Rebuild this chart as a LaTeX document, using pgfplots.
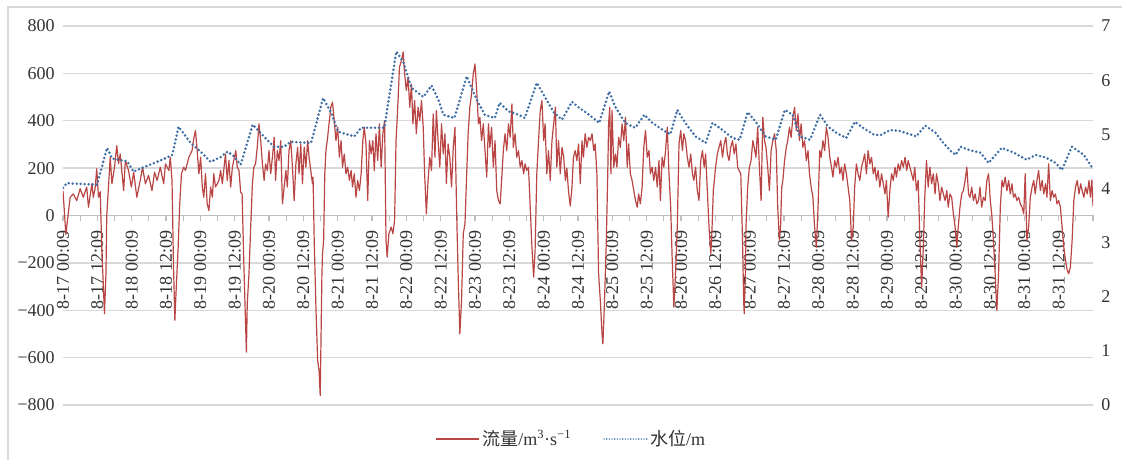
\documentclass[border=0pt]{standalone}
\usepackage{fontspec}
\setmainfont{Liberation Serif}
\newfontfamily\cjk{Noto Sans CJK SC}
\usepackage{pgfplots}
\pgfplotsset{compat=1.18}

\definecolor{flowred}{RGB}{185,70,68}
\definecolor{levelblue}{RGB}{62,110,165}
\definecolor{gridgray}{RGB}{217,217,217}
\definecolor{axisgray}{RGB}{191,191,191}
\definecolor{labelgray}{RGB}{50,50,50}

% hours from 8-17 00:09, flow in m3/s
\pgfplotstableread[row sep=\\]{
h q\\
0 105\\ 1 -80\\ 2.5 77\\ 3.6 91\\ 4.8 63\\ 6.0 113\\ 7.1 77\\ 8.3 120\\ 8.9 35\\ 10.1 134\\ 10.6 77\\ 11.2 113\\ 11.8 197\\ 12.4 77\\ 13.0 100\\ 13.6 -150\\ 14.5 -415\\ 15.0 -250\\ 15.3 0\\ 15.9 120\\
16.5 246\\ 17.1 134\\ 18.0 204\\ 18.8 295\\ 19.4 218\\ 20.0 260\\ 21.2 105\\ 21.8 232\\ 22.9 190\\ 23.9 120\\ 24.7 183\\ 25.8 77\\ 27.0 148\\ 27.8 204\\ 28.8 134\\ 29.9 169\\ 31.1 105\\ 32.0 183\\ 32.9 148\\ 34.0 204\\
35.2 134\\ 35.8 218\\ 37.0 190\\ 37.5 246\\ 38.1 150\\ 38.6 -200\\ 39.1 -443\\ 39.6 -300\\ 40.2 -150\\ 40.8 50\\ 41.4 176\\ 42.2 204\\ 42.8 190\\ 44.0 246\\ 45.1 274\\ 45.7 324\\ 46.3 359\\ 46.9 274\\ 47.5 176\\ 48.1 246\\
48.7 120\\ 49.2 77\\ 49.8 176\\ 50.4 49\\ 51.0 21\\ 51.6 120\\ 52.2 77\\ 52.7 176\\ 53.3 120\\ 54.5 148\\ 55.1 190\\ 55.7 134\\ 56.3 204\\ 56.8 260\\ 57.4 148\\ 58.0 232\\ 58.6 120\\ 59.2 204\\ 60.4 274\\ 60.9 204\\
61.5 190\\ 62.1 98\\ 62.6 91\\ 63.2 -200\\ 64.1 -577\\ 64.4 -373\\ 65.0 -246\\ 65.6 -49\\ 66.2 134\\ 66.7 204\\ 67.3 218\\ 67.9 288\\ 68.5 387\\ 69.1 316\\ 69.7 218\\ 70.3 148\\ 70.8 218\\ 71.4 190\\ 72.0 274\\ 72.6 176\\
73.2 246\\ 73.8 330\\ 74.3 148\\ 74.9 274\\ 75.5 232\\ 76.1 316\\ 76.7 49\\ 77.3 120\\ 77.9 190\\ 78.4 120\\ 79.0 274\\ 79.6 316\\ 80.2 204\\ 80.8 63\\ 81.4 218\\ 82.0 288\\ 82.5 176\\ 83.1 302\\ 83.7 134\\ 84.3 288\\
84.9 204\\ 85.5 316\\ 86.0 246\\ 86.6 190\\ 87.2 134\\ 87.4 162\\ 87.8 -105\\ 88.4 -387\\ 89.0 -612\\ 89.5 -654\\ 89.9 -760\\ 90.5 -246\\ 90.7 -162\\ 91.1 -105\\ 91.5 176\\ 91.9 274\\ 92.5 330\\ 93.1 401\\ 93.6 457\\ 94.2 478\\
94.8 401\\ 95.4 316\\ 96.0 373\\ 96.6 246\\ 97.2 316\\ 97.7 204\\ 98.3 260\\ 98.9 176\\ 99.5 204\\ 100.1 148\\ 100.7 190\\ 101.2 120\\ 101.8 176\\ 102.4 77\\ 103.0 148\\ 103.6 105\\ 104.2 176\\ 104.8 316\\ 105.3 373\\ 105.9 302\\
106.5 63\\ 107.1 316\\ 107.7 260\\ 108.3 316\\ 108.8 190\\ 109.4 345\\ 110.0 232\\ 110.6 387\\ 111.2 204\\ 111.8 345\\ 112.4 401\\ 112.9 -105\\ 113.3 -176\\ 113.9 -77\\ 114.7 -49\\ 115.3 -77\\ 115.9 -21\\ 116.4 316\\ 117.0 457\\ 117.6 626\\
118.2 650\\ 118.9 690\\ 119.4 598\\ 120.0 528\\ 120.6 584\\ 121.2 457\\ 121.8 555\\ 122.3 387\\ 122.9 485\\ 123.5 345\\ 124.1 457\\ 124.7 401\\ 125.3 485\\ 125.9 373\\ 126.4 176\\ 127.0 7\\ 127.6 148\\ 128.2 246\\ 128.8 190\\ 129.4 429\\
130.0 246\\ 130.5 443\\ 131.1 316\\ 131.7 204\\ 132.3 387\\ 132.9 260\\ 133.5 345\\ 134.0 134\\ 134.6 302\\ 135.2 246\\ 135.8 120\\ 136.4 288\\ 137.0 373\\ 137.6 7\\ 138.1 -246\\ 138.7 -500\\ 139.3 -359\\ 139.9 -77\\ 140.5 -35\\ 141.1 176\\
141.6 345\\ 142.2 457\\ 142.8 514\\ 143.4 598\\ 144.0 640\\ 144.6 527\\ 145.2 387\\ 145.7 415\\ 146.3 316\\ 146.9 387\\ 147.5 274\\ 148.1 162\\ 148.7 387\\ 149.2 288\\ 149.8 373\\ 150.4 204\\ 151.0 316\\ 151.6 105\\ 152.2 63\\ 152.8 49\\
153.3 148\\ 153.9 274\\ 154.5 345\\ 155.1 274\\ 155.7 387\\ 156.3 330\\ 156.9 471\\ 157.4 288\\ 158.0 345\\ 158.6 246\\ 159.2 274\\ 159.8 204\\ 160.4 232\\ 161.0 176\\ 161.5 218\\ 162.1 190\\ 162.7 204\\ 163.3 35\\ 163.9 -134\\ 164.5 -260\\
165.0 -148\\ 165.6 176\\ 166.2 316\\ 166.8 443\\ 167.4 485\\ 168.0 316\\ 168.5 387\\ 169.1 176\\ 169.7 274\\ 170.3 148\\ 170.9 316\\ 171.5 387\\ 172.1 457\\ 172.6 204\\ 173.2 316\\ 173.8 176\\ 174.4 288\\ 175.0 246\\ 175.6 148\\ 176.1 200\\
176.7 100\\ 177.3 40\\ 177.9 120\\ 178.4 246\\ 179.0 274\\ 179.6 232\\ 180.2 302\\ 180.8 134\\ 181.4 316\\ 181.9 246\\ 182.5 345\\ 183.1 288\\ 183.7 330\\ 184.3 316\\ 184.9 345\\ 185.5 274\\ 186.0 302\\ 186.6 176\\ 187.2 -246\\ 187.8 -359\\
188.4 -500\\ 188.7 -542\\ 189.2 -387\\ 189.9 -105\\ 190.4 176\\ 190.7 387\\ 191.1 457\\ 191.5 176\\ 191.9 443\\ 192.5 204\\ 193.1 260\\ 193.6 204\\ 194.2 330\\ 194.8 288\\ 195.4 387\\ 196.0 316\\ 196.6 415\\ 197.2 204\\ 197.7 302\\ 198.3 176\\
198.9 148\\ 199.5 105\\ 200.1 63\\ 200.7 35\\ 201.2 91\\ 201.8 49\\ 202.4 120\\ 203.0 288\\ 203.6 359\\ 204.2 246\\ 204.8 274\\ 205.3 176\\ 205.9 204\\ 206.5 148\\ 207.1 204\\ 207.7 120\\ 208.3 232\\ 208.8 63\\ 209.4 246\\ 210.0 204\\
210.6 274\\ 211.2 373\\ 211.8 176\\ 212.4 35\\ 212.9 -176\\ 213.5 -387\\ 214.1 -246\\ 214.7 -49\\ 215.3 302\\ 215.9 359\\ 216.5 274\\ 217.0 345\\ 217.6 316\\ 218.2 246\\ 218.8 204\\ 219.4 260\\ 220.0 176\\ 220.5 148\\ 221.1 204\\ 221.7 105\\
222.3 63\\ 222.9 232\\ 223.5 274\\ 224.1 204\\ 224.6 260\\ 225.2 105\\ 225.8 -49\\ 226.4 -162\\ 226.7 -105\\ 227.3 105\\ 228.1 204\\ 228.7 260\\ 229.3 288\\ 229.9 316\\ 230.5 246\\ 231.1 302\\ 231.7 330\\ 232.2 260\\ 232.8 232\\ 233.4 288\\
234.0 316\\ 234.6 260\\ 235.2 302\\ 235.8 204\\ 236.3 190\\ 236.9 176\\ 237.5 -105\\ 237.9 -359\\ 238.1 -415\\ 238.5 -246\\ 238.7 -49\\ 239.3 120\\ 239.9 204\\ 240.5 232\\ 241.1 316\\ 241.6 288\\ 242.2 246\\ 242.8 373\\ 243.4 204\\ 244.0 63\\
244.6 415\\ 245.2 316\\ 245.7 288\\ 246.3 204\\ 246.9 105\\ 247.5 274\\ 248.1 316\\ 248.7 345\\ 249.3 274\\ 249.8 35\\ 250.4 -105\\ 250.8 -49\\ 251.2 120\\ 251.6 148\\ 252.2 232\\ 252.8 288\\ 253.3 316\\ 253.9 373\\ 254.5 330\\ 255.1 415\\
255.7 457\\ 256.3 359\\ 256.9 429\\ 257.4 316\\ 258.0 387\\ 258.6 288\\ 259.2 316\\ 259.8 232\\ 260.4 274\\ 260.9 176\\ 261.5 120\\ 262.1 77\\ 262.7 -49\\ 263.3 -134\\ 263.9 35\\ 264.5 274\\ 265.0 246\\ 265.6 316\\ 266.2 274\\ 266.8 373\\
267.4 330\\ 268.0 246\\ 268.6 204\\ 269.1 162\\ 269.7 232\\ 270.3 204\\ 270.9 246\\ 271.5 176\\ 272.1 204\\ 272.6 148\\ 273.2 218\\ 273.8 176\\ 274.4 120\\ 275.0 63\\ 275.6 -105\\ 276.2 -49\\ 276.7 120\\ 277.3 218\\ 277.9 176\\ 278.5 148\\
279.1 204\\ 279.7 232\\ 280.2 260\\ 280.8 176\\ 281.4 274\\ 282.0 218\\ 282.6 246\\ 283.2 176\\ 283.8 204\\ 284.3 148\\ 284.9 190\\ 285.5 120\\ 286.1 176\\ 286.7 134\\ 287.3 91\\ 287.8 148\\ 288.4 -7\\ 289.0 105\\ 289.6 176\\ 290.2 148\\
290.8 204\\ 291.3 162\\ 291.9 218\\ 292.5 190\\ 293.1 232\\ 293.7 204\\ 294.3 246\\ 294.9 190\\ 295.4 232\\ 296.0 204\\ 296.6 176\\ 297.2 148\\ 297.7 204\\ 298.3 105\\ 298.9 148\\ 299.5 -105\\ 300.1 -302\\ 300.7 -134\\ 301.2 77\\ 301.8 232\\
302.4 120\\ 303.0 204\\ 303.6 134\\ 304.2 176\\ 304.8 91\\ 305.3 176\\ 305.9 134\\ 306.5 63\\ 307.1 120\\ 307.7 91\\ 308.3 63\\ 308.9 105\\ 309.4 35\\ 310.0 91\\ 310.6 77\\ 311.2 7\\ 311.8 -49\\ 312.4 -134\\ 312.9 -49\\ 313.5 35\\
314.1 91\\ 314.7 105\\ 315.3 148\\ 315.9 204\\ 316.5 91\\ 317.0 77\\ 317.6 120\\ 318.2 63\\ 318.8 91\\ 319.4 49\\ 320.0 63\\ 320.5 120\\ 321.1 35\\ 321.7 77\\ 322.3 63\\ 322.9 148\\ 323.5 176\\ 324.1 63\\ 324.6 7\\ 325.2 -105\\
325.8 -246\\ 326.4 -401\\ 327.0 -246\\ 327.6 35\\ 328.2 148\\ 328.7 120\\ 329.3 162\\ 329.9 105\\ 330.5 148\\ 331.1 91\\ 331.7 134\\ 332.2 77\\ 332.8 91\\ 333.4 63\\ 334.0 77\\ 334.6 49\\ 335.2 35\\ 335.8 7\\ 336.3 176\\ 336.9 -105\\
337.5 -49\\ 338.1 77\\ 338.7 120\\ 339.3 148\\ 339.8 91\\ 340.4 148\\ 341.0 190\\ 341.6 105\\ 342.2 148\\ 342.8 91\\ 343.4 134\\ 343.9 77\\ 344.5 218\\ 345.1 63\\ 345.7 105\\ 346.3 77\\ 346.9 91\\ 347.4 49\\ 348.0 63\\ 348.6 35\\
349.2 -49\\ 349.8 -134\\ 350.4 -190\\ 351.0 -232\\ 351.5 -246\\ 352.1 -218\\ 352.7 -105\\ 353.3 63\\ 353.9 120\\ 354.5 148\\ 355.1 91\\ 355.7 134\\ 356.2 105\\ 356.8 77\\ 357.4 120\\ 358.0 91\\ 358.6 148\\ 359.1 77\\ 359.6 150\\ 360 40\\
}\flowtable

% hours from 8-17 00:09, water level in m
\pgfplotstableread[row sep=\\]{
h z\\
0 4.01\\ 1.4 4.10\\ 3.2 4.09\\ 11.9 4.07\\ 15.4 4.75\\ 17.2 4.55\\ 22.5 4.50\\ 24.6 4.31\\ 30.5 4.44\\ 35.1 4.54\\ 38.2 4.62\\ 40.4 5.14\\ 44.6 4.84\\ 48.1 4.68\\ 51.6 4.49\\ 55.1 4.58\\ 57.5 4.68\\ 59.6 4.60\\ 62.1 4.44\\ 66.3 5.18\\
70.2 4.96\\ 73.7 4.77\\ 77.2 4.77\\ 79.6 4.86\\ 86.7 4.84\\ 90.9 5.67\\ 93.7 5.40\\ 96.1 5.05\\ 101.8 4.96\\ 104.2 5.12\\ 112.3 5.12\\ 116.5 6.53\\ 118.9 6.34\\ 121.8 5.86\\ 126.0 5.69\\ 128.8 5.90\\ 131.2 5.64\\ 133.0 5.36\\ 136.8 5.30\\ 141.1 6.07\\
144.6 5.64\\ 147.4 5.36\\ 150.9 5.30\\ 152.6 5.58\\ 155.8 5.42\\ 159.3 5.36\\ 161.4 5.30\\ 165.6 5.95\\ 168.4 5.69\\ 171.6 5.40\\ 174.4 5.27\\ 177.9 5.60\\ 180.4 5.49\\ 183.9 5.36\\ 187.4 5.21\\ 190.9 5.79\\ 193.0 5.51\\ 196.5 5.21\\ 200.0 5.12\\ 203.2 5.36\\
206.0 5.21\\ 210.5 5.05\\ 212.3 5.00\\ 214.7 5.45\\ 217.5 5.21\\ 221.1 4.96\\ 224.6 4.84\\ 227.0 5.21\\ 230.5 5.08\\ 234.0 4.93\\ 236.5 4.90\\ 239.3 5.41\\ 242.1 5.23\\ 245.6 4.96\\ 249.1 4.90\\ 252.3 5.45\\ 255.1 5.36\\ 257.5 4.96\\ 261.1 4.90\\ 264.6 5.36\\
267.4 5.14\\ 270.2 5.03\\ 273.7 4.93\\ 276.8 5.23\\ 279.6 5.12\\ 283.2 5.00\\ 285.6 4.98\\ 289.1 5.08\\ 292.6 5.06\\ 298.2 4.96\\ 301.4 5.16\\ 304.9 5.03\\ 307.7 4.84\\ 310.5 4.68\\ 312.0 4.62\\ 313.7 4.77\\ 317.2 4.70\\ 320.7 4.66\\ 323.5 4.47\\ 328.1 4.75\\
332.3 4.66\\ 336.8 4.53\\ 340.0 4.62\\ 343.5 4.57\\ 347.0 4.47\\ 349.1 4.34\\ 352.6 4.77\\ 356.8 4.62\\ 360 4.36\\
}\leveltable

\begin{document}
\fontsize{13.5}{16}\selectfont
\begin{tikzpicture}
\useasboundingbox (-47.25pt,-41.25pt) rectangle (794.25pt,303.75pt);
\draw[gridgray, line width=1.1pt] (-41.25pt,-60pt) -- (-41.25pt,298.5pt) -- (820pt,298.5pt);

\begin{axis}[
  at={(0,0)}, anchor=south west,
  scale only axis, width=772.5pt, height=284.25pt,
  xmin=0, xmax=360, ymin=-800, ymax=800,
  axis x line*=middle, axis y line*=left,
  hide obscured x ticks=false,
  y axis line style={draw=none},
  x axis line style={draw=axisgray, line width=0.8pt},
  tick align=outside,
  major tick length=4.5pt, minor tick length=4.5pt,
  xtick={0,12,...,360},
  minor xtick={6,18,...,354},
  xticklabels={8-17 00:09,8-17 12:09,8-18 00:09,8-18 12:09,8-19 00:09,8-19 12:09,8-20 00:09,8-20 12:09,8-21 00:09,8-21 12:09,8-22 00:09,8-22 12:09,8-23 00:09,8-23 12:09,8-24 00:09,8-24 12:09,8-25 00:09,8-25 12:09,8-26 00:09,8-26 12:09,8-27 00:09,8-27 12:09,8-28 00:09,8-28 12:09,8-29 00:09,8-29 12:09,8-30 00:09,8-30 12:09,8-31 00:09,8-31 12:09,{}},
  xtick style={draw=axisgray, line width=0.8pt},
  minor tick style={draw=axisgray, line width=0.8pt},
  xticklabel style={rotate=90, anchor=east, inner sep=0pt, font=\fontsize{13.5}{16}\selectfont, text=labelgray},
  xticklabel shift=6.75pt,
  ytick={-800,-600,...,800},
  yticklabels={−800,−600,−400,−200,0,200,400,600,800},
  ytick style={draw=none},
  yticklabel style={inner sep=1.5pt, font=\fontsize{13.5}{16}\selectfont, text=labelgray},
  ymajorgrids, grid style={gridgray, line width=1pt},
  legend style={at={(0.494,-0.0897)}, anchor=center, draw=none, fill=none,
    legend columns=-1, font=\fontsize{13.5}{16}\selectfont, text=labelgray,
    /tikz/every even column/.append style={column sep=22pt}},
  legend image code/.code={\draw[#1] (0pt,0pt) -- (32pt,0pt);},
]
\addplot[flowred, line width=0.9pt, line join=round] table[x=h, y=q] {\flowtable};
\addlegendentry{{\cjk 流量}/m\textsuperscript{3}·s\textsuperscript{−1}}
\addlegendimage{levelblue, line width=1.2pt, dash pattern=on 0pt off 2pt, line cap=round}
\addlegendentry{{\cjk 水位}/m}
\end{axis}

\begin{axis}[
  at={(0,0)}, anchor=south west,
  scale only axis, width=772.5pt, height=284.25pt,
  xmin=0, xmax=360, ymin=0, ymax=7,
  axis x line=none, axis y line*=right,
  y axis line style={draw=none},
  tick align=outside, major tick length=4.5pt,
  ytick={0,1,...,7},
  ytick style={draw=none},
  yticklabel style={inner sep=1.5pt, font=\fontsize{13.5}{16}\selectfont, text=labelgray,
    /pgf/number format/assume math mode=true},
]
\addplot[levelblue, line width=2.1pt, dash pattern=on 0pt off 3pt, line cap=round, line join=round] table[x=h, y=z] {\leveltable};
\end{axis}
\end{tikzpicture}
\end{document}
